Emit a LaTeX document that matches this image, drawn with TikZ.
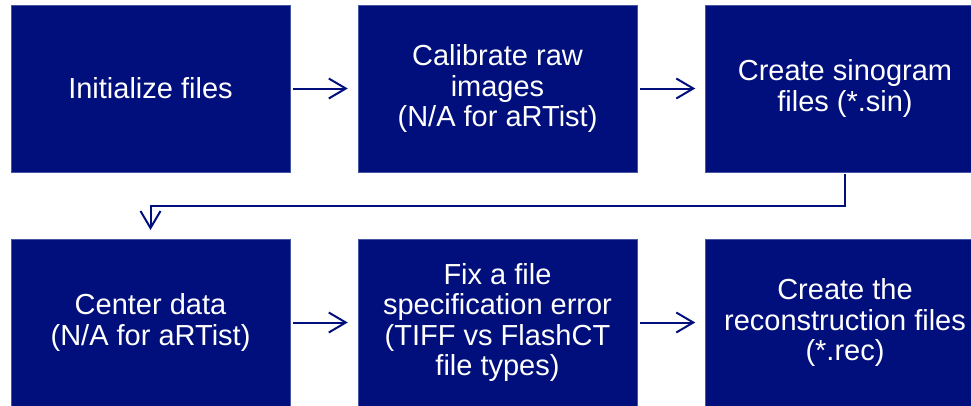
\documentclass[tikz,border=0pt]{standalone}
\usepackage{fontspec}
\setmainfont{Liberation Sans}
\usetikzlibrary{arrows.meta}
\definecolor{navy}{RGB}{0,15,123}
\definecolor{navyedge}{RGB}{70,85,165}
\tikzset{
  stepbox/.style={rectangle, fill=navy, draw=navyedge, line width=0.5pt,
    minimum width=279pt, minimum height=166.5pt, inner sep=0pt,
    text=white, align=center, font=\fontsize{29}{30.5}\selectfont},
  conn/.style={draw=navy, line width=2pt,
    -{Straight Barb[length=17pt,width=20pt,line width=2pt]},
    shorten <=3pt, shorten >=10pt}
}
\begin{document}
\begin{tikzpicture}[x=1pt,y=-1pt]
\useasboundingbox (0,0) rectangle (971,405);
\node[stepbox] (b1) at (150.5,88.5) {Initialize files};
\node[stepbox] (b2) at (497.5,88.5) {Calibrate raw\\images\\(N/A for aRTist)};
\node[stepbox] (b3) at (845,88.5) {Create sinogram\\files (*.sin)};
\node[stepbox] (b4) at (150.5,322.5) {Center data\\(N/A for aRTist)};
\node[stepbox] (b5) at (497.5,322.5) {Fix a file\\specification error\\(TIFF vs FlashCT\\file types)};
\node[stepbox] (b6) at (845,322.5) {Create the\\reconstruction files\\(*.rec)};
\coordinate (turn) at (845,205.5);
\draw[conn] (b1) -- (b2);
\draw[conn] (b2) -- (b3);
\draw[conn] (b4) -- (b5);
\draw[conn] (b5) -- (b6);
\draw[conn, shorten <=2pt, shorten >=9pt] (b3.south) -- (turn) -| (b4.north);
\end{tikzpicture}
\end{document}
